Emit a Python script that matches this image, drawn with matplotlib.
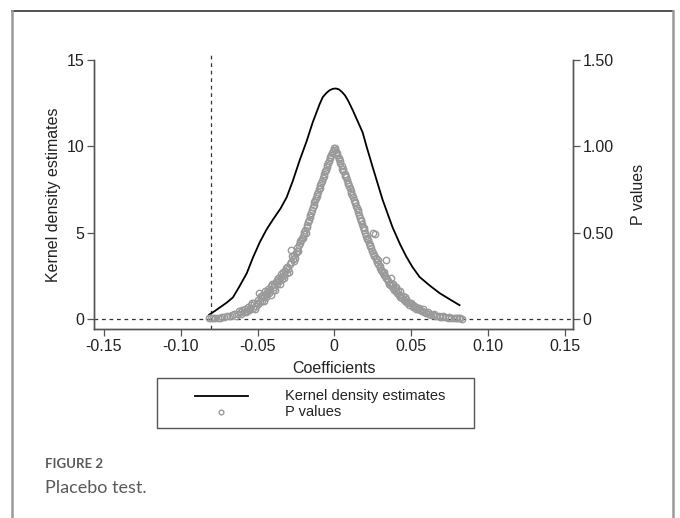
import matplotlib
matplotlib.use("Agg")
import matplotlib.pyplot as plt
from matplotlib.lines import Line2D
from matplotlib.patches import Rectangle

plt.rcParams["font.family"] = ["Liberation Sans", "DejaVu Sans"]

# kernel density of the placebo coefficients
kd_x = [-0.0815, -0.078, -0.074, -0.070, -0.066, -0.062, -0.057, -0.053, -0.0485,
        -0.044, -0.040, -0.035, -0.031, -0.027, -0.0225, -0.018, -0.014, -0.0095,
        -0.0075, -0.005, -0.003, -0.001, 0.001, 0.003, 0.005, 0.007, 0.009, 0.012,
        0.015, 0.0185, 0.021, 0.025, 0.0315, 0.038, 0.043,
        0.047, 0.051, 0.0556, 0.062, 0.0686, 0.075, 0.0816]
kd_y = [0.25, 0.45, 0.70, 0.95, 1.25, 1.85, 2.65, 3.55, 4.45,
        5.2, 5.75, 6.4, 7.05, 8.0, 9.2, 10.3, 11.4, 12.45,
        12.85, 13.1, 13.25, 13.33, 13.35, 13.3, 13.15, 12.95, 12.65, 12.1,
        11.5, 10.8, 10.0, 8.8, 6.9, 5.3, 4.3,
        3.6, 3.0, 2.43, 1.95, 1.5, 1.15, 0.8]

# placebo coefficients and their p values
coef = [-0.0815, -0.0800, -0.0790, -0.0760, -0.0730, -0.0700, -0.0680, -0.0650, -0.0630,
        -0.0610, -0.0600, -0.0590, -0.0580, -0.0570, -0.0560, -0.0550, -0.0540, -0.0530,
        -0.0520, -0.0510, -0.0500, -0.0495, -0.0490, -0.0485, -0.0480, -0.0470, -0.0465,
        -0.0460, -0.0450, -0.0445, -0.0440, -0.0430, -0.0425, -0.0420, -0.0410, -0.0400,
        -0.0395, -0.0390, -0.0380, -0.0370, -0.0365, -0.0360, -0.0350, -0.0340, -0.0335,
        -0.0330, -0.0320, -0.0310, -0.0305, -0.0300, -0.0290, -0.0285, -0.0280, -0.0270,
        -0.0265, -0.0260, -0.0250, -0.0245, -0.0240, -0.0230, -0.0225, -0.0220, -0.0210,
        -0.0200, -0.0195, -0.0190, -0.0180, -0.0175, -0.0170, -0.0160, -0.0155, -0.0150,
        -0.0140, -0.0135, -0.0130, -0.0120, -0.0115, -0.0110, -0.0100, -0.0095, -0.0090,
        -0.0080, -0.0075, -0.0070, -0.0060, -0.0055, -0.0050, -0.0040, -0.0035, -0.0030,
        -0.0020, -0.0015, -0.0010, -0.0005,
        -0.0775, -0.0745, -0.0715, -0.0665, -0.0640, -0.0620, -0.0605, -0.0575, -0.0555,
        -0.0535, -0.0515, -0.0505, -0.0475, -0.0455, -0.0435, -0.0415, -0.0405, -0.0385,
        -0.0375, -0.0355, -0.0345, -0.0325, -0.0315, -0.0295, -0.0275, -0.0255, -0.0235,
        -0.0215, -0.0205, -0.0185, -0.0165, -0.0145, -0.0125, -0.0105, -0.0085, -0.0065,
        -0.0045, -0.0025,
        0.0003, 0.0008, 0.0015, 0.0020, 0.0028, 0.0035, 0.0040, 0.0048, 0.0055,
        0.0060, 0.0068, 0.0075, 0.0080, 0.0088, 0.0095, 0.0100, 0.0108, 0.0115,
        0.0120, 0.0128, 0.0135, 0.0140, 0.0148, 0.0155, 0.0160, 0.0168, 0.0175,
        0.0180, 0.0188, 0.0195, 0.0200, 0.0208, 0.0215, 0.0220, 0.0228, 0.0235,
        0.0240, 0.0248, 0.0250, 0.0255, 0.0262, 0.0263, 0.0270, 0.0275, 0.0280,
        0.0288, 0.0295, 0.0300, 0.0310, 0.0318, 0.0325, 0.0330, 0.0340, 0.0345,
        0.0350, 0.0360, 0.0365, 0.0370, 0.0380, 0.0385, 0.0390, 0.0400, 0.0405,
        0.0410, 0.0420, 0.0425, 0.0430, 0.0440, 0.0450, 0.0455, 0.0465, 0.0470,
        0.0480, 0.0490, 0.0500, 0.0510, 0.0520, 0.0530, 0.0545, 0.0555, 0.0570,
        0.0585, 0.0600, 0.0620, 0.0640, 0.0660, 0.0680, 0.0700, 0.0720, 0.0740,
        0.0760, 0.0780, 0.0800, 0.0820, 0.0830,
        0.0012, 0.0032, 0.0052, 0.0072, 0.0092, 0.0112, 0.0132, 0.0152, 0.0172,
        0.0192, 0.0212, 0.0232, 0.0258, 0.0285, 0.0305, 0.0322, 0.0335, 0.0355,
        0.0375, 0.0395, 0.0415, 0.0435, 0.0460, 0.0475, 0.0495, 0.0515, 0.0535,
        0.0560, 0.0575, 0.0610, 0.0630, 0.0650, 0.0690, 0.0710, 0.0750, 0.0790,
        0.0810]
pval = [0.004, 0.006, 0.003, 0.008, 0.010, 0.015, 0.018, 0.030, 0.028,
        0.040, 0.052, 0.038, 0.060, 0.048, 0.070, 0.058, 0.082, 0.065,
        0.090, 0.075, 0.110, 0.085, 0.150, 0.100, 0.120, 0.105, 0.140,
        0.125, 0.160, 0.130, 0.145, 0.175, 0.150, 0.165, 0.190, 0.170,
        0.205, 0.185, 0.215, 0.200, 0.235, 0.220, 0.245, 0.230, 0.270,
        0.255, 0.280, 0.265, 0.300, 0.290, 0.320, 0.400, 0.330, 0.350,
        0.335, 0.370, 0.380, 0.395, 0.410, 0.430, 0.450, 0.440, 0.470,
        0.490, 0.505, 0.515, 0.530, 0.545, 0.560, 0.590, 0.600, 0.615,
        0.650, 0.660, 0.675, 0.700, 0.715, 0.725, 0.750, 0.760, 0.775,
        0.800, 0.815, 0.830, 0.855, 0.865, 0.880, 0.905, 0.915, 0.930,
        0.950, 0.962, 0.975, 0.988,
        0.005, 0.004, 0.012, 0.022, 0.020, 0.045, 0.030, 0.040, 0.050,
        0.095, 0.060, 0.090, 0.135, 0.105, 0.155, 0.140, 0.200, 0.165,
        0.225, 0.200, 0.260, 0.240, 0.295, 0.275, 0.365, 0.355, 0.395,
        0.455, 0.470, 0.500, 0.575, 0.630, 0.690, 0.735, 0.790, 0.840,
        0.892, 0.940,
        0.993, 0.980, 0.962, 0.950, 0.932, 0.915, 0.902, 0.885, 0.868,
        0.855, 0.838, 0.820, 0.805, 0.790, 0.770, 0.760, 0.740, 0.720,
        0.705, 0.690, 0.670, 0.655, 0.640, 0.620, 0.600, 0.585, 0.565,
        0.550, 0.535, 0.515, 0.500, 0.480, 0.465, 0.455, 0.440, 0.420,
        0.410, 0.395, 0.500, 0.380, 0.365, 0.490, 0.345, 0.355, 0.330,
        0.320, 0.305, 0.295, 0.280, 0.265, 0.255, 0.250, 0.340, 0.230,
        0.220, 0.210, 0.195, 0.240, 0.180, 0.200, 0.170, 0.160, 0.185,
        0.150, 0.140, 0.160, 0.130, 0.120, 0.135, 0.110, 0.100, 0.115,
        0.090, 0.080, 0.095, 0.070, 0.075, 0.060, 0.055, 0.065, 0.045,
        0.040, 0.035, 0.030, 0.022, 0.018, 0.016, 0.012, 0.010, 0.008,
        0.006, 0.007, 0.004, 0.003, 0.002,
        0.970, 0.925, 0.870, 0.830, 0.780, 0.730, 0.680, 0.630, 0.575,
        0.525, 0.470, 0.430, 0.370, 0.340, 0.285, 0.275, 0.240, 0.205,
        0.195, 0.180, 0.160, 0.125, 0.125, 0.100, 0.090, 0.080, 0.070,
        0.050, 0.055, 0.038, 0.025, 0.028, 0.014, 0.018, 0.010, 0.005,
        0.008]

x_ticks = [-0.15, -0.10, -0.05, 0, 0.05, 0.10, 0.15]
x_tick_labels = ["-0.15", "-0.10", "-0.05", "0", "0.05", "0.10", "0.15"]
left_ticks = [0, 5, 10, 15]
right_ticks = [0, 0.5, 1.0, 1.5]
right_tick_labels = ["0", "0.50", "1.00", "1.50"]
legend_labels = ["Kernel density estimates", "P values"]
true_effect_line = -0.08

fig = plt.figure(figsize=(6.8, 5.18), dpi=100)
ax = fig.add_axes([94 / 680, 1 - 329 / 518, 479 / 680, 269 / 518])
ax2 = ax.twinx()

spine_col = "#555555"
txt_col = "#222222"
pt_col = "#9a9a9a"

ax.plot(kd_x, kd_y, color="black", lw=1.3, zorder=3)
ax2.plot(coef, pval, linestyle="none", marker="o", markersize=4.6,
         markerfacecolor="none", markeredgecolor=pt_col, markeredgewidth=1.0)

ax.axhline(0, color="#333333", lw=0.9, ls=(0, (3, 3)))
ax.axvline(true_effect_line, ymin=0, ymax=1.03, color="#333333", lw=0.9,
           ls=(0, (3, 3)), clip_on=False)

ax.set_xlim(-0.1565, 0.1555)
ax.set_ylim(-0.58, 15)
ax2.set_ylim(-0.058, 1.5)

ax.set_xticks(x_ticks)
ax.set_xticklabels(x_tick_labels)
ax.set_yticks(left_ticks)
ax2.set_yticks(right_ticks)
ax2.set_yticklabels(right_tick_labels)

for a in (ax, ax2):
    a.spines["top"].set_visible(False)
    for s in ("left", "right", "bottom"):
        a.spines[s].set_color(spine_col)
        a.spines[s].set_linewidth(1.0)
    a.tick_params(direction="out", length=5, width=0.9, color=spine_col,
                  labelsize=11.5, labelcolor=txt_col, pad=2)

ax.set_xlabel("Coefficients", fontsize=11.5, color=txt_col, labelpad=5)
ax.set_ylabel("Kernel density estimates", fontsize=11.5, color=txt_col, labelpad=4)
ax2.set_ylabel("P values", fontsize=11.5, color=txt_col, labelpad=12)

# legend box drawn by hand to match the wide Stata legend
fx = lambda px: px / 680
fy = lambda py: 1 - py / 518
fig.add_artist(Rectangle((fx(157), fy(428)), fx(474) - fx(157), fy(378) - fy(428),
                         transform=fig.transFigure, facecolor="white",
                         edgecolor="#555555", lw=1.0))
fig.add_artist(Line2D([fx(195), fx(248)], [fy(396), fy(396)],
                      transform=fig.transFigure, color="black", lw=1.3))
fig.add_artist(Line2D([fx(221)], [fy(412)], transform=fig.transFigure,
                      linestyle="none", marker="o", markersize=3.4,
                      markerfacecolor="none", markeredgecolor=pt_col))
fig.text(fx(285), fy(396), legend_labels[0], fontsize=10.5, color=txt_col, va="center")
fig.text(fx(285), fy(412), legend_labels[1], fontsize=10.5, color=txt_col, va="center")

# outer frame of the figure panel
fig.add_artist(Line2D([fx(12), fx(673)], [fy(11), fy(11)],
                      transform=fig.transFigure, color="#333333", lw=1.2))
fig.add_artist(Line2D([fx(12), fx(12)], [0, fy(11)],
                      transform=fig.transFigure, color="#9a9a9a", lw=1.8))
fig.add_artist(Line2D([fx(673), fx(673)], [0, fy(11)],
                      transform=fig.transFigure, color="#9a9a9a", lw=1.8))

fig.text(fx(45), fy(464), "FIGURE 2", fontsize=9.5, fontweight="bold",
         color="#5a5a5a", family=["Lato", "DejaVu Sans"], va="center")
fig.text(fx(45), fy(488), "Placebo test.", fontsize=13,
         color="#5a5a5a", family=["Lato", "DejaVu Sans"], va="center")

fig.savefig("out.png", dpi=100)
